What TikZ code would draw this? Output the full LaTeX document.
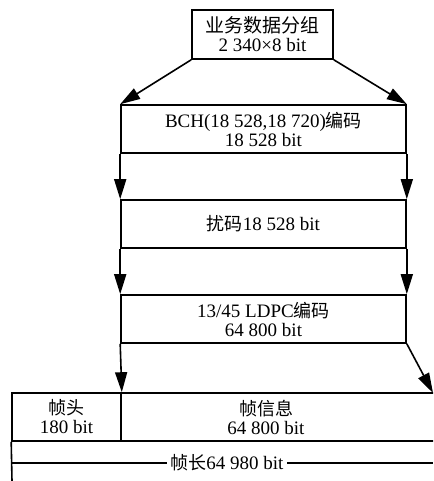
\documentclass[tikz,border=0pt]{standalone}
\usepackage{fontspec}
\setmainfont{Liberation Serif}
\newfontfamily\cjk{Noto Sans CJK SC}
\newcommand\zh[1]{{\cjk\fontsize{18}{19}\selectfont #1}}
\usetikzlibrary{arrows.meta}
\begin{document}
\begin{tikzpicture}[x=1pt,y=-1pt,
  font=\fontsize{19}{19}\selectfont,
  line width=1.6pt,
  box/.style={draw,rectangle,inner sep=0pt,align=center},
  arr/.style={-{Triangle[length=20pt,width=12pt]}}]
\useasboundingbox (0,0) rectangle (433,481);
\clip (0,0) rectangle (433,481);
\node[box,minimum width=141pt,minimum height=49pt] (src) at (262.5,34.5)
  {{\cjk 业务数据分组}\\2 340×8 bit};
\node[box,minimum width=285pt,minimum height=48pt] (bch) at (263.5,129)
  {BCH(18 528,18 720)\zh{编码}\\18 528 bit};
\node[box,minimum width=285pt,minimum height=48pt] (scr) at (263.5,224)
  {\zh{扰码}18 528 bit};
\node[box,minimum width=285pt,minimum height=48pt] (ldpc) at (263.5,319)
  {13/45 LDPC\zh{编码}\\64 800 bit};
\node[box,minimum width=109pt,minimum height=48pt] (hdr) at (66.5,417)
  {\zh{帧头}\\180 bit};
\node[box,minimum width=324pt,minimum height=48pt] (info) at (283,417) {};
\node[align=center,inner sep=0pt] (infotxt) at (266,417) {\zh{帧信息}\\64 800 bit};
\coordinate (rtip) at (433,393);
\coordinate (lend) at (12,481);
\coordinate (lenL) at (12,463);
\coordinate (lenR) at (433,463);
\node[fill=white,inner xsep=3pt,inner ysep=1pt] (len) at (227,463) {\zh{帧长}64 980 bit};
\draw[arr] (src.south west) -- (bch.north west);
\draw[arr] (src.south east) -- (bch.north east);
\draw[arr] (bch.south west) -- (scr.north west);
\draw[arr] (bch.south east) -- (scr.north east);
\draw[arr] (scr.south west) -- (ldpc.north west);
\draw[arr] (scr.south east) -- (ldpc.north east);
\draw[arr] (ldpc.south west) -- (hdr.north east);
\draw[arr] (ldpc.south east) -- (rtip);
\draw (hdr.south west) -- (lend);
\draw (lenL) -- (len.west);
\draw (len.east) -- (lenR);
\end{tikzpicture}
\end{document}
